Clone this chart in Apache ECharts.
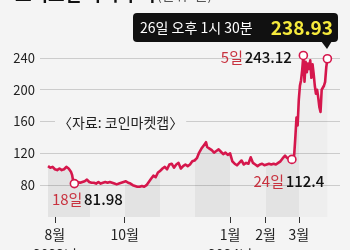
<!DOCTYPE html>
<html><head><meta charset="utf-8">
<script src="https://cdn.jsdelivr.net/npm/echarts@6/dist/echarts.min.js"></script>
<style>html,body{margin:0;padding:0;background:#f4f4f4}#c{width:350px;height:250px}</style>
</head><body><div id="c"></div>
<script>
const titleText = '도지코인 가격 추이';
const unitText = '(단위: 원)';
const sourceText = '〈자료: 코인마켓캡〉';
const calloutTime = '26일 오후 1시 30분';

const dates = [
'2023-07-26','2023-07-28','2023-07-30','2023-08-01','2023-08-03','2023-08-05','2023-08-07','2023-08-09','2023-08-11','2023-08-13','2023-08-15','2023-08-16','2023-08-17','2023-08-18','2023-08-19','2023-08-21','2023-08-23','2023-08-25','2023-08-27','2023-08-29','2023-08-31',
'2023-09-02','2023-09-04','2023-09-06','2023-09-08','2023-09-10','2023-09-12','2023-09-14','2023-09-16','2023-09-18','2023-09-20','2023-09-22','2023-09-24','2023-09-26','2023-09-28','2023-09-30',
'2023-10-02','2023-10-04','2023-10-06','2023-10-08','2023-10-10','2023-10-12','2023-10-14','2023-10-16','2023-10-18','2023-10-20','2023-10-22','2023-10-24','2023-10-26','2023-10-28','2023-10-30',
'2023-11-01','2023-11-03','2023-11-05','2023-11-07','2023-11-09','2023-11-11','2023-11-13','2023-11-15','2023-11-17','2023-11-19','2023-11-21','2023-11-23','2023-11-25','2023-11-27','2023-11-29',
'2023-12-01','2023-12-03','2023-12-05','2023-12-07','2023-12-09','2023-12-11','2023-12-12','2023-12-14','2023-12-16','2023-12-18','2023-12-20','2023-12-22','2023-12-24','2023-12-26','2023-12-28','2023-12-30',
'2024-01-01','2024-01-03','2024-01-05','2024-01-07','2024-01-09','2024-01-11','2024-01-13','2024-01-15','2024-01-17','2024-01-19','2024-01-21','2024-01-23','2024-01-25','2024-01-27','2024-01-29','2024-01-31',
'2024-02-02','2024-02-04','2024-02-06','2024-02-08','2024-02-10','2024-02-12','2024-02-14','2024-02-16','2024-02-18','2024-02-20','2024-02-22','2024-02-24','2024-02-26','2024-02-27','2024-02-28','2024-02-29',
'2024-03-01','2024-03-02','2024-03-03','2024-03-04','2024-03-05','2024-03-06','2024-03-07','2024-03-08','2024-03-09','2024-03-10','2024-03-11','2024-03-12','2024-03-13','2024-03-14','2024-03-15','2024-03-16','2024-03-17','2024-03-18','2024-03-19','2024-03-20','2024-03-21','2024-03-22','2024-03-23','2024-03-24','2024-03-25','2024-03-26'
];
const prices = [
104,102,103,100,99,101,99,100,103,101,97,93,85,81.98,85,84,83,84,85,87,84,
83,83,82,84,82,83,84,83,84,83,82,81,82,83,84,
85,83,82,80,79,78,78,79,78,80,84,88,92,90,96,
98,101,103,100,106,107,102,106,108,101,104,106,104,106,110,
111,114,121,126,130,134,128,126,124,121,123,125,122,119,121,118,
120,110,107,105,108,111,106,108,107,115,108,106,104,106,107,105,
106,107,106,107,106,108,110,114,117,114,113,112.4,118,140,165,155,
187,205,212,225,243.12,210,235,222,233,226,237,215,232,220,205,195,200,190,178,172,200,198,205,210,228,238.93
];

const yTicks = [80, 120, 160, 200, 240];
const monthTickDates = ['2023-08-01','2023-10-01','2024-01-01','2024-02-01','2024-03-01'];
const monthTickLabels = ['8월\n2023년','10월','1월\n2024년','2월','3월'];
const bandEdges = ['2023-09-01','2023-10-01','2023-11-01','2023-12-01','2024-01-01','2024-02-01','2024-03-01'];
const annotations = [
  {date:'2023-08-18', value:81.98, offset:[13,16]},
  {date:'2024-02-24', value:112.4, offset:[-3,22]},
  {date:'2024-03-05', value:243.12, offset:[-47,2]}
];
const lastIdx = dates.length - 1;

const ts = s => { const p = s.split('-').map(Number); return Date.UTC(p[0], p[1]-1, p[2]); };
const RED = '#d5174c';
const FONT = "'Noto Sans CJK KR', sans-serif";
const DARK = 'rgba(0,0,0,0.10)', LIGHT = 'rgba(0,0,0,0.035)';

const t0 = ts(dates[0]), t1 = ts(dates[lastIdx]);
const stops = [];
let prev = 0;
bandEdges.concat([dates[lastIdx]]).forEach((e, i) => {
  const off = Math.min(1, (ts(e) - t0) / (t1 - t0));
  const col = i % 2 === 0 ? DARK : LIGHT;
  stops.push({offset: prev, color: col}, {offset: off, color: col});
  prev = off;
});

const seriesData = dates.map((d, i) => [ts(d), prices[i]]);
const tickVals = monthTickDates.map(ts);

const markData = annotations.map(a => ({
  coord: [ts(a.date), a.value],
  label: {
    show: true, position: 'inside', offset: a.offset,
    formatter: '{a|' + Number(a.date.slice(8)) + '일}{s| }{b|' + a.value + '}',
    rich: {
      a: {color: '#c8323f', fontSize: 15, fontFamily: FONT},
      s: {fontSize: 6},
      b: {color: '#111', fontSize: 15, fontFamily: FONT, fontWeight: 500}
    }
  }
}));
markData.push({coord: seriesData[lastIdx], label: {show: false}});

const GRID = '#cccccc', NONE = 'rgba(0,0,0,0)';
const chart = echarts.init(document.getElementById('c'), null, {renderer: 'canvas'});
chart.setOption({
  backgroundColor: '#f4f4f4',
  animation: false,
  grid: {left: 40, right: 10, top: 42, bottom: 33, containLabel: false, outerBoundsMode: 'none'},
  xAxis: {
    type: 'value',
    min: ts('2023-07-19'), max: ts('2024-04-06'),
    axisLine: {show: false},
    splitLine: {show: false},
    axisTick: {show: true, customValues: tickVals, length: 6, lineStyle: {color: '#333'}},
    axisLabel: {
      customValues: tickVals, margin: 8, color: '#222', fontSize: 14, fontFamily: FONT, lineHeight: 20,
      formatter: v => { let k = 0, b = Infinity; tickVals.forEach((t, i) => { const d = Math.abs(t - v); if (d < b) { b = d; k = i; } }); return monthTickLabels[k]; }
    }
  },
  yAxis: {
    type: 'value', min: 40, max: 260, interval: 40,
    axisLine: {show: false}, axisTick: {show: false},
    axisLabel: {showMinLabel: false, showMaxLabel: false, color: '#222', fontSize: 13, fontFamily: FONT, margin: 5,
      formatter: v => yTicks.indexOf(v) >= 0 ? String(v) : ''},
    splitLine: {lineStyle: {color: [NONE, GRID, GRID, GRID, GRID, GRID, NONE], width: 1}}
  },
  series: [{
    type: 'line',
    data: seriesData,
    showSymbol: false,
    symbol: 'none',
    lineStyle: {color: RED, width: 2.6, join: 'round'},
    areaStyle: {origin: 'start', color: new echarts.graphic.LinearGradient(0, 0, 1, 0, stops)},
    markPoint: {
      symbol: 'circle', symbolSize: 8,
      itemStyle: {color: '#fff', borderColor: RED, borderWidth: 1.6},
      data: markData
    },
    z: 3
  }],
  graphic: [
    {type: 'text', z: 100, left: 15, top: -15, style: {text: titleText, font: 'bold 18px ' + FONT, fill: '#111'}},
    {type: 'text', z: 100, left: 157, top: -12, style: {text: unitText, font: '14px ' + FONT, fill: '#555'}},
    {type: 'text', z: 100, x: 55, y: 123, style: {text: sourceText, font: '14px ' + FONT, fill: '#222', verticalAlign: 'middle', backgroundColor: '#f4f4f4', padding: [0, 3]}},
    {type: 'rect', z: 100, shape: {x: 133, y: 13, width: 205, height: 29, r: 4}, style: {fill: '#111'}},
    {type: 'polygon', z: 100, shape: {points: [[321, 41], [332, 41], [327, 49]]}, style: {fill: '#111'}},
    {type: 'text', z: 101, x: 140, y: 28, style: {text: calloutTime, font: '14px ' + FONT, fill: '#fff', verticalAlign: 'middle'}},
    {type: 'text', z: 101, x: 333, y: 28, style: {text: String(prices[lastIdx]), font: 'bold 19px ' + FONT, fill: '#f6ea3c', align: 'right', verticalAlign: 'middle'}}
  ]
});
</script></body></html>
